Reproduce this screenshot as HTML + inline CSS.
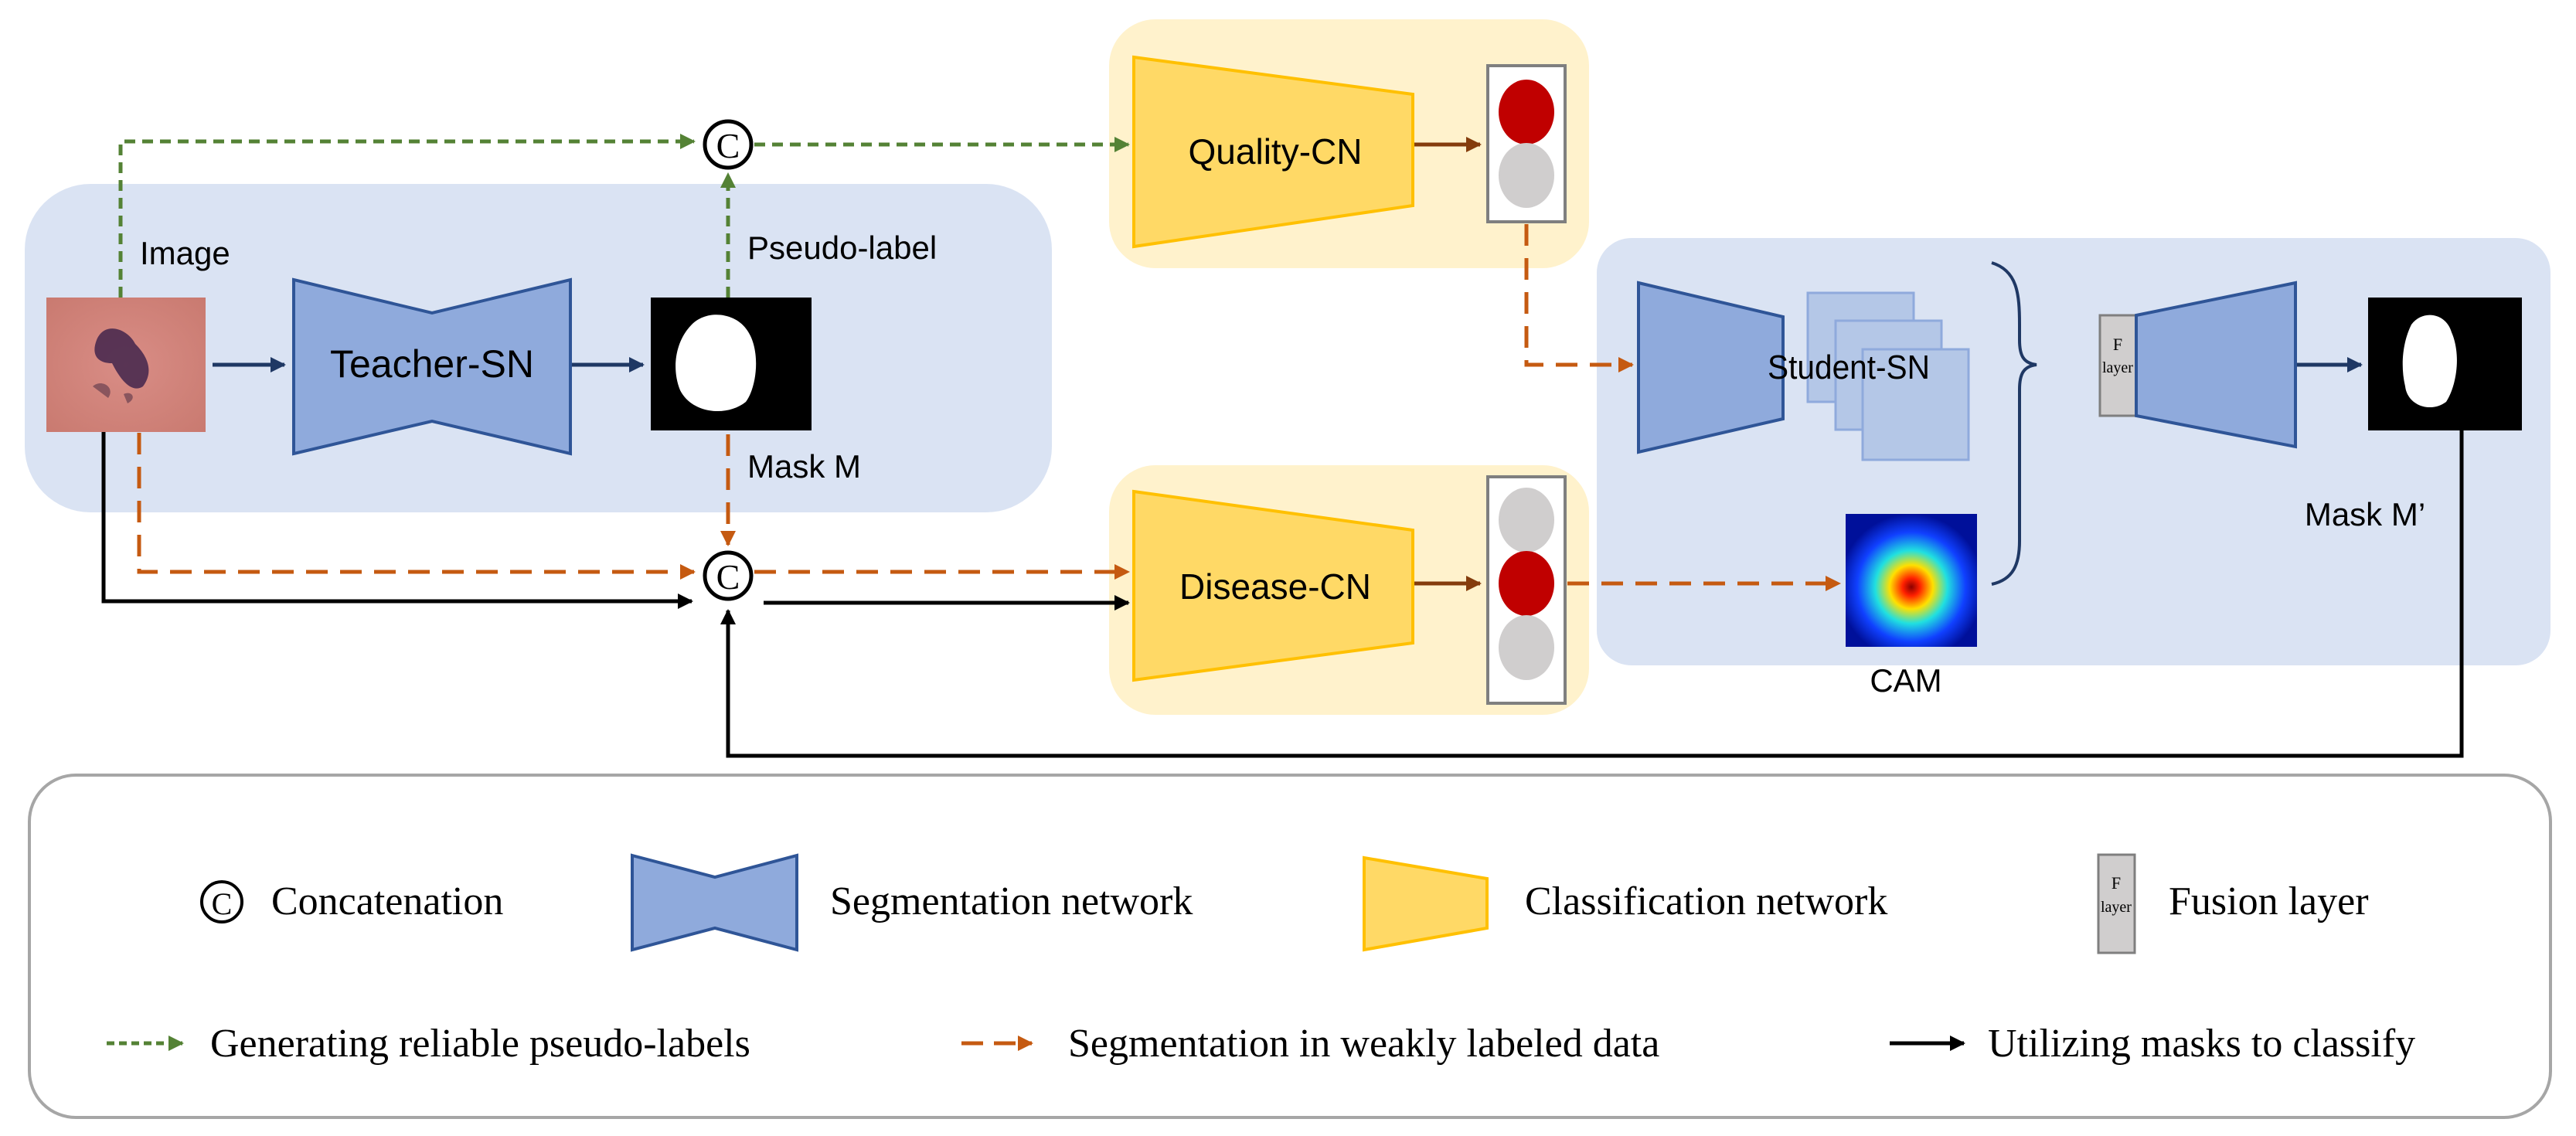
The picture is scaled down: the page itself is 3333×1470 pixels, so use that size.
<!DOCTYPE html>
<html><head><meta charset="utf-8"><style>html,body{margin:0;padding:0;background:#fff}svg{display:block}</style></head>
<body>
<svg width="3333" height="1470" viewBox="0 0 3333 1470" xmlns="http://www.w3.org/2000/svg" font-family="'Liberation Sans', sans-serif">
<defs>
<marker id="ag" viewBox="0 0 10 10" refX="9" refY="5" markerWidth="4" markerHeight="4" orient="auto"><path d="M0,0L10,5L0,10z" fill="#548235"/></marker>
<marker id="ao" viewBox="0 0 10 10" refX="9" refY="5" markerWidth="4" markerHeight="4" orient="auto"><path d="M0,0L10,5L0,10z" fill="#c55a11"/></marker>
<marker id="ab" viewBox="0 0 10 10" refX="9" refY="5" markerWidth="4" markerHeight="4" orient="auto"><path d="M0,0L10,5L0,10z" fill="#000"/></marker>
<marker id="an" viewBox="0 0 10 10" refX="9" refY="5" markerWidth="4" markerHeight="4" orient="auto"><path d="M0,0L10,5L0,10z" fill="#1f3864"/></marker>
<marker id="abr" viewBox="0 0 10 10" refX="9" refY="5" markerWidth="4" markerHeight="4" orient="auto"><path d="M0,0L10,5L0,10z" fill="#843c0c"/></marker>
<radialGradient id="skin" cx="0.5" cy="0.5" r="0.7"><stop offset="0" stop-color="#d98d86"/><stop offset="1" stop-color="#c97a70"/></radialGradient>
<radialGradient id="cam" cx="0.5" cy="0.55" r="0.55"><stop offset="0" stop-color="#8b0000"/><stop offset="0.12" stop-color="#ff2000"/><stop offset="0.3" stop-color="#ffe000"/><stop offset="0.5" stop-color="#20e0e0"/><stop offset="0.75" stop-color="#1040ff"/><stop offset="1" stop-color="#00109a"/></radialGradient>
</defs>

<rect x="32" y="238" width="1329" height="425" rx="85" fill="#dae3f3"/>
<rect x="1435" y="25" width="621" height="322" rx="60" fill="#fff2cc"/>
<rect x="1435" y="602" width="621" height="323" rx="60" fill="#fff2cc"/>
<rect x="2066" y="308" width="1234" height="553" rx="45" fill="#dae3f3"/>

<rect x="60" y="385" width="206" height="174" fill="url(#skin)"/>
<path d="M125,440 C135,415 165,425 175,445 C190,460 200,480 185,500 C170,510 155,490 145,470 C125,470 118,458 125,440z" fill="#4a2a4f" opacity="0.9"/>
<path d="M120,500 C130,490 150,500 140,515z M160,510 C170,505 178,515 165,522z" fill="#6a4050" opacity="0.7"/>
<text x="181" y="342" font-size="42" fill="#000">Image</text>

<path d="M380,362 L559,405 L738,362 L738,587 L559,545 L380,587z" fill="#8faadc" stroke="#2f5597" stroke-width="4"/>
<text x="559" y="488" font-size="50" text-anchor="middle" fill="#000">Teacher-SN</text>

<rect x="842" y="385" width="208" height="172" fill="#000"/>
<path d="M895,420 C915,400 950,405 965,425 C985,450 980,500 965,520 C940,540 895,535 880,505 C868,475 875,440 895,420z" fill="#fff"/>
<text x="967" y="335" font-size="42">Pseudo-label</text>
<text x="967" y="618" font-size="42">Mask M</text>

<line x1="275" y1="472" x2="368" y2="472" stroke="#1f3864" stroke-width="5" marker-end="url(#an)"/>
<line x1="740" y1="472" x2="832" y2="472" stroke="#1f3864" stroke-width="5" marker-end="url(#an)"/>

<g fill="none" stroke="#548235" stroke-width="5" stroke-dasharray="14 9">
<polyline points="156,385 156,183 898,183" marker-end="url(#ag)"/>
<line x1="942" y1="385" x2="942" y2="225" marker-end="url(#ag)"/>
<line x1="976" y1="187" x2="1460" y2="187" marker-end="url(#ag)"/>
</g>

<g fill="none" stroke="#c55a11" stroke-width="5" stroke-dasharray="28 16">
<polyline points="180,560 180,740 898,740" marker-end="url(#ao)"/>
<line x1="942" y1="562" x2="942" y2="705" marker-end="url(#ao)"/>
<line x1="976" y1="740" x2="1460" y2="740" marker-end="url(#ao)"/>
<polyline points="1975,290 1975,472 2112,472" marker-end="url(#ao)"/>
<line x1="2028" y1="755" x2="2380" y2="755" marker-end="url(#ao)"/>
</g>

<g fill="none" stroke="#000" stroke-width="5">
<polyline points="134,559 134,778 895,778" marker-end="url(#ab)"/>
<line x1="988" y1="780" x2="1460" y2="780" marker-end="url(#ab)"/>
<polyline points="3185,557 3185,978 942,978 942,790" marker-end="url(#ab)"/>
</g>

<circle cx="942" cy="187" r="30" fill="#fff" stroke="#000" stroke-width="5"/>
<text x="942" y="204" font-size="46" text-anchor="middle" font-family="'Liberation Serif', serif">C</text>
<circle cx="942" cy="745" r="30" fill="#fff" stroke="#000" stroke-width="5"/>
<text x="942" y="762" font-size="46" text-anchor="middle" font-family="'Liberation Serif', serif">C</text>

<path d="M1467,74 L1828,122 L1828,266 L1467,319z" fill="#ffd966" stroke="#ffc000" stroke-width="4"/>
<text x="1650" y="212" font-size="46" text-anchor="middle">Quality-CN</text>
<line x1="1830" y1="187" x2="1915" y2="187" stroke="#843c0c" stroke-width="5" marker-end="url(#abr)"/>
<rect x="1925" y="85" width="100" height="202" fill="#fff" stroke="#7f7f7f" stroke-width="4"/>
<ellipse cx="1975" cy="145" rx="36" ry="42" fill="#c00000"/>
<ellipse cx="1975" cy="227" rx="36" ry="42" fill="#d0cece"/>

<path d="M1467,636 L1828,686 L1828,832 L1467,880z" fill="#ffd966" stroke="#ffc000" stroke-width="4"/>
<text x="1650" y="775" font-size="46" text-anchor="middle">Disease-CN</text>
<line x1="1830" y1="755" x2="1915" y2="755" stroke="#843c0c" stroke-width="5" marker-end="url(#abr)"/>
<rect x="1925" y="617" width="100" height="293" fill="#fff" stroke="#7f7f7f" stroke-width="4"/>
<ellipse cx="1975" cy="673" rx="36" ry="42" fill="#d0cece"/>
<ellipse cx="1975" cy="755" rx="36" ry="42" fill="#c00000"/>
<ellipse cx="1975" cy="838" rx="36" ry="42" fill="#d0cece"/>

<path d="M2120,366 L2307,410 L2307,542 L2120,585z" fill="#8faadc" stroke="#2f5597" stroke-width="4"/>
<rect x="2339" y="379" width="137" height="141" fill="#b4c7e7" stroke="#8faadc" stroke-width="3"/>
<rect x="2375" y="415" width="137" height="141" fill="#b4c7e7" stroke="#8faadc" stroke-width="3"/>
<rect x="2410" y="452" width="137" height="143" fill="#b4c7e7" stroke="#8faadc" stroke-width="3"/>
<text x="2392" y="490" font-size="44" text-anchor="middle" textLength="210" lengthAdjust="spacingAndGlyphs">Student-SN</text>

<rect x="2388" y="665" width="170" height="172" fill="url(#cam)"/>
<text x="2466" y="895" font-size="42" text-anchor="middle">CAM</text>

<path d="M2577,340 C2610,350 2613,380 2613,420 L2613,440 C2613,460 2618,470 2635,472 C2618,474 2613,484 2613,504 L2613,700 C2613,730 2605,750 2577,756" fill="none" stroke="#1f3864" stroke-width="4"/>

<rect x="2717" y="408" width="47" height="130" fill="#d0cece" stroke="#7f7f7f" stroke-width="3"/>
<text x="2740" y="453" font-size="22" text-anchor="middle" font-family="'Liberation Serif', serif">F</text>
<text x="2740" y="482" font-size="20" text-anchor="middle" font-family="'Liberation Serif', serif">layer</text>
<path d="M2764,408 L2970,366 L2970,578 L2764,538z" fill="#8faadc" stroke="#2f5597" stroke-width="4"/>
<line x1="2972" y1="472" x2="3055" y2="472" stroke="#1f3864" stroke-width="5" marker-end="url(#an)"/>

<rect x="3064" y="385" width="199" height="172" fill="#000"/>
<path d="M3120,420 C3135,400 3165,405 3172,430 C3185,460 3178,500 3165,520 C3145,535 3115,525 3112,500 C3105,470 3110,440 3120,420z" fill="#fff"/>
<text x="3060" y="680" font-size="42" text-anchor="middle">Mask M’</text>

<rect x="38" y="1003" width="3262" height="443" rx="60" fill="#fff" stroke="#a6a6a6" stroke-width="4"/>
<g font-family="'Liberation Serif', serif" font-size="52">
<circle cx="287" cy="1167" r="26" fill="#fff" stroke="#000" stroke-width="4"/>
<text x="287" y="1183" font-size="40" text-anchor="middle">C</text>
<text x="351" y="1183">Concatenation</text>
<path d="M818,1107 L925,1135 L1031,1107 L1031,1229 L925,1201 L818,1229z" fill="#8faadc" stroke="#2f5597" stroke-width="4"/>
<text x="1074" y="1183">Segmentation network</text>
<path d="M1765,1110 L1924,1137 L1924,1201 L1765,1229z" fill="#ffd966" stroke="#ffc000" stroke-width="4"/>
<text x="1973" y="1183">Classification network</text>
<rect x="2715" y="1106" width="47" height="127" fill="#d0cece" stroke="#7f7f7f" stroke-width="3"/>
<text x="2738" y="1150" font-size="22" text-anchor="middle">F</text>
<text x="2738" y="1180" font-size="20" text-anchor="middle">layer</text>
<text x="2806" y="1183">Fusion layer</text>

<line x1="138" y1="1350" x2="236" y2="1350" stroke="#548235" stroke-width="5" stroke-dasharray="10 6" marker-end="url(#ag)"/>
<text x="272" y="1367">Generating reliable pseudo-labels</text>
<line x1="1244" y1="1350" x2="1335" y2="1350" stroke="#c55a11" stroke-width="5" stroke-dasharray="28 14" marker-end="url(#ao)"/>
<text x="1382" y="1367">Segmentation in weakly labeled data</text>
<line x1="2445" y1="1350" x2="2541" y2="1350" stroke="#000" stroke-width="5" marker-end="url(#ab)"/>
<text x="2572" y="1367">Utilizing masks to classify</text>
</g>
</svg>
</body></html>
